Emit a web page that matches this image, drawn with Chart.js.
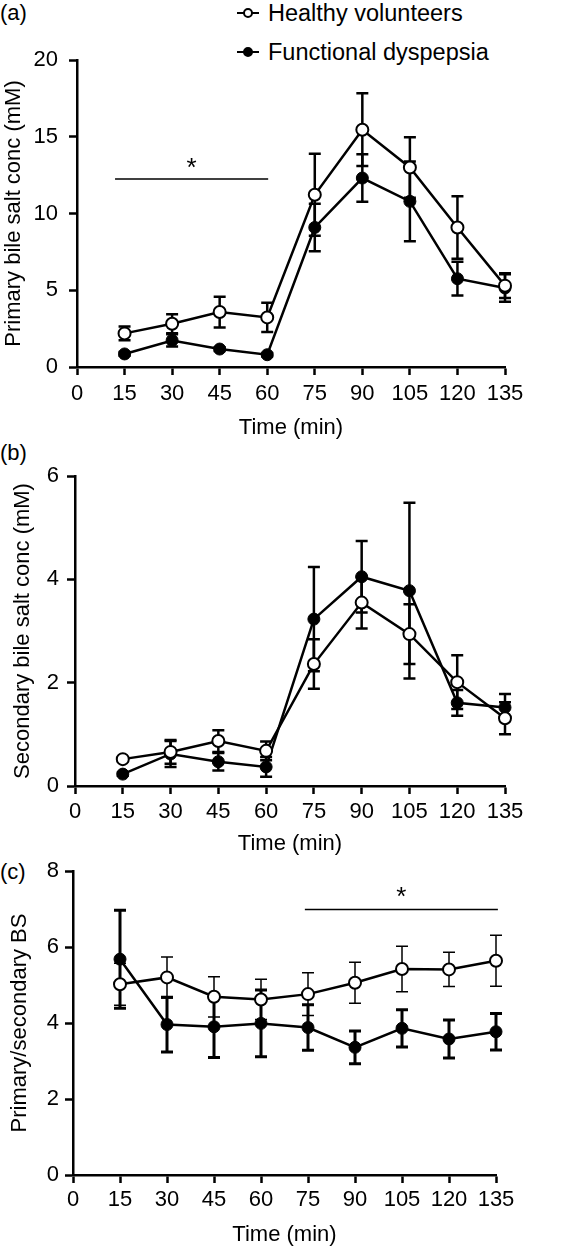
<!DOCTYPE html>
<html>
<head>
<meta charset="utf-8">
<script src="https://cdn.jsdelivr.net/npm/chart.js@4.4.1/dist/chart.umd.min.js"></script>
<style>
  html, body { margin: 0; padding: 0; background: #fff; overflow: hidden; }
  body { width: 564px; height: 1247px; position: relative; font-family: "Liberation Sans", Arial, Helvetica, sans-serif; color: #000; }
  canvas { position: absolute; left: 0; }
  .tag { position: absolute; left: 0px; font-size: 22px; line-height: 22px; }
  .legend-row { position: absolute; left: 237px; height: 26px; line-height: 26px; font-size: 23.5px; white-space: nowrap; }
  .legend-row .line { position: absolute; left: 0; top: 12px; width: 22px; height: 2px; background: #000; }
  .legend-row .dot { position: absolute; left: 6px; top: 8px; width: 6px; height: 6px; border: 2px solid #000; border-radius: 50%; background: #fff; }
  .legend-row .dot.filled { background: #000; }
  .legend-row .label { position: absolute; left: 31px; top: 0; }
</style>
</head>
<body>
<div class="tag" style="top:2px">(a)</div>
<div class="tag" style="top:442px">(b)</div>
<div class="tag" style="top:861px">(c)</div>

<div class="legend-row" style="top:0px"><div class="line"></div><div class="dot"></div><span class="label">Healthy volunteers</span></div>
<div class="legend-row" style="top:39px"><div class="line"></div><div class="dot filled"></div><span class="label">Functional dyspepsia</span></div>

<canvas id="chartPrimary" width="564" height="445" style="top:0px"></canvas>
<canvas id="chartSecondary" width="564" height="420" style="top:445px"></canvas>
<canvas id="chartRatio" width="564" height="402" style="top:845px"></canvas>

<script>
// tiempos de muestreo (min)
const times = [15, 30, 45, 60, 75, 90, 105, 120, 135];
const timeTicks = [0, 15, 30, 45, 60, 75, 90, 105, 120, 135];

// (a) sales biliares primarias (mM), media y error
const primaryHealthy = [2.19, 2.82, 3.58, 3.23, 11.22, 15.46, 13.0, 9.09, 5.3];
const primaryHealthyErr = [0.45, 0.62, 1.0, 0.95, 2.67, 2.37, 1.97, 2.03, 0.8];
const primaryDyspepsia = [0.85, 1.73, 1.17, 0.8, 9.09, 12.31, 10.79, 5.75, 5.15];
const primaryDyspepsiaErr = [0.12, 0.4, 0.12, 0.12, 1.55, 1.55, 2.6, 1.1, 0.9];
const primaryTicks = [0, 5, 10, 15, 20];
const primarySigSpan = [12, 60.3];
const primarySigLevel = 12.25;

// (b) sales biliares secundarias (mM)
const secondaryHealthy = [0.52, 0.66, 0.87, 0.68, 2.36, 3.55, 2.94, 2.01, 1.31];
const secondaryHealthyErr = [0.04, 0.23, 0.21, 0.18, 0.48, 0.5, 0.58, 0.52, 0.31];
const secondaryDyspepsia = [0.23, 0.62, 0.47, 0.37, 3.23, 4.05, 3.78, 1.61, 1.52];
const secondaryDyspepsiaErr = [0.03, 0.25, 0.17, 0.19, 1.01, 0.69, 1.7, 0.25, 0.26];
const secondaryTicks = [0, 2, 4, 6];

// (c) cociente primarias/secundarias
const ratioHealthy = [5.02, 5.2, 4.69, 4.62, 4.76, 5.06, 5.42, 5.41, 5.64];
const ratioHealthyErr = [0.55, 0.54, 0.53, 0.53, 0.56, 0.54, 0.6, 0.45, 0.67];
const ratioDyspepsia = [5.68, 3.96, 3.9, 3.99, 3.88, 3.36, 3.86, 3.58, 3.77];
const ratioDyspepsiaErr = [1.29, 0.72, 0.81, 0.88, 0.6, 0.43, 0.49, 0.5, 0.48];
const ratioTicks = [0, 2, 4, 6, 8];
const ratioSigSpan = [74, 135.6];
const ratioSigLevel = 6.99;

const fontFamily = '"Liberation Sans", Arial, Helvetica, sans-serif';
Chart.defaults.font.family = fontFamily;
Chart.defaults.color = '#000';

// barras de error, debajo de los marcadores
const errorBars = {
    id: 'errorBars',
    beforeDatasetsDraw(chart) {
        const ctx = chart.ctx;
        const yScale = chart.scales.y;
        chart.data.datasets.forEach((ds, i) => {
            if (!ds.errors) return;
            const meta = chart.getDatasetMeta(i);
            ctx.save();
            ctx.strokeStyle = '#000';
            ctx.lineWidth = ds.errorWidth;
            meta.data.forEach((pt, j) => {
                const v = ds.data[j].y;
                const e = ds.errors[j];
                const top = yScale.getPixelForValue(v + e);
                const bottom = yScale.getPixelForValue(v - e);
                const w = ds.capHalf;
                ctx.beginPath();
                ctx.moveTo(pt.x, top);
                ctx.lineTo(pt.x, bottom);
                ctx.moveTo(pt.x - w, top);
                ctx.lineTo(pt.x + w, top);
                ctx.moveTo(pt.x - w, bottom);
                ctx.lineTo(pt.x + w, bottom);
                ctx.stroke();
            });
            ctx.restore();
        });
    }
};

// linea de significancia con asterisco
const sigBar = {
    id: 'sigBar',
    afterDatasetsDraw(chart, args, opts) {
        if (!opts || !opts.span) return;
        const ctx = chart.ctx;
        const x0 = chart.scales.x.getPixelForValue(opts.span[0]);
        const x1 = chart.scales.x.getPixelForValue(opts.span[1]);
        const y = chart.scales.y.getPixelForValue(opts.level);
        ctx.save();
        ctx.strokeStyle = '#000';
        ctx.lineWidth = 1.5;
        ctx.beginPath();
        ctx.moveTo(x0, y);
        ctx.lineTo(x1, y);
        ctx.stroke();
        ctx.fillStyle = '#000';
        ctx.font = '26px ' + fontFamily;
        ctx.textAlign = 'center';
        ctx.textBaseline = 'middle';
        ctx.fillText('*', (x0 + x1) / 2, y - opts.lift);
        ctx.restore();
    }
};

function series(values) {
    return times.map((t, i) => ({ x: t, y: values[i] }));
}

function makeChart(id, p) {
    const healthyStyle = {
        label: 'Healthy volunteers',
        borderColor: '#000',
        borderWidth: 2.5,
        pointRadius: 6,
        pointBorderWidth: 2,
        pointBackgroundColor: '#fff',
        pointBorderColor: '#000',
        tension: 0,
        clip: false
    };
    const fdStyle = {
        label: 'Functional dyspepsia',
        borderColor: '#000',
        borderWidth: 2.5,
        pointRadius: 6,
        pointBorderWidth: 1,
        pointBackgroundColor: '#000',
        pointBorderColor: '#000',
        tension: 0,
        clip: false
    };
    return new Chart(document.getElementById(id), {
        type: 'line',
        data: {
            datasets: [
                Object.assign({}, healthyStyle, {
                    data: series(p.healthy), errors: p.healthyErr,
                    errorWidth: p.healthyErrWidth, capHalf: 6
                }),
                Object.assign({}, fdStyle, {
                    data: series(p.fd), errors: p.fdErr,
                    errorWidth: p.fdErrWidth, capHalf: 6
                })
            ]
        },
        options: {
            responsive: false,
            animation: false,
            layout: { padding: { top: p.padTop, right: p.padRight, left: 0, bottom: 0 } },
            plugins: {
                legend: { display: false },
                tooltip: { enabled: false },
                sigBar: p.sig || {}
            },
            scales: {
                x: {
                    type: 'linear',
                    min: 0,
                    max: 135,
                    afterBuildTicks: s => { s.ticks = timeTicks.map(v => ({ value: v })); },
                    afterFit: s => { s.height = p.xHeight; },
                    grid: { drawOnChartArea: false, drawTicks: true, tickLength: 8, tickWidth: 2.5, tickColor: '#000' },
                    border: { display: true, color: '#000', width: 2.5 },
                    ticks: { font: { size: 22 }, padding: p.xTickPad, color: '#000', maxRotation: 0, autoSkip: false },
                    title: { display: true, text: 'Time (min)', color: '#000', font: { size: 22, lineHeight: 1 }, padding: { top: 0, bottom: p.xTitlePad } }
                },
                y: {
                    type: 'linear',
                    min: p.yTicks[0],
                    max: p.yTicks[p.yTicks.length - 1],
                    afterBuildTicks: s => { s.ticks = p.yTicks.map(v => ({ value: v })); },
                    afterFit: s => { s.width = p.yWidth; },
                    grid: { drawOnChartArea: false, drawTicks: true, tickLength: 8, tickWidth: 2.5, tickColor: '#000' },
                    border: { display: true, color: '#000', width: 2.5 },
                    ticks: { font: { size: 22 }, padding: p.yTickPad, color: '#000' },
                    title: { display: true, text: p.yTitle, color: '#000', font: { size: 22, lineHeight: 1 }, padding: { top: p.yTitlePad, bottom: 0 } }
                }
            }
        },
        plugins: [errorBars, sigBar]
    });
}

makeChart('chartPrimary', {
    healthy: primaryHealthy, healthyErr: primaryHealthyErr,
    fd: primaryDyspepsia, fdErr: primaryDyspepsiaErr,
    healthyErrWidth: 2.5, fdErrWidth: 2.5,
    yTicks: primaryTicks, yTitle: 'Primary bile salt conc (mM)',
    padTop: 60, padRight: 59, yWidth: 77, xHeight: 78,
    xTickPad: 6, xTitlePad: 6, yTickPad: 11, yTitlePad: 3,
    sig: { span: primarySigSpan, level: primarySigLevel, lift: 10 }
});

makeChart('chartSecondary', {
    healthy: secondaryHealthy, healthyErr: secondaryHealthyErr,
    fd: secondaryDyspepsia, fdErr: secondaryDyspepsiaErr,
    healthyErrWidth: 2.5, fdErrWidth: 2.5,
    yTicks: secondaryTicks, yTitle: 'Secondary bile salt conc (mM)',
    padTop: 31, padRight: 59, yWidth: 75, xHeight: 79,
    xTickPad: 5, xTitlePad: 10, yTickPad: 8, yTitlePad: 12
});

makeChart('chartRatio', {
    healthy: ratioHealthy, healthyErr: ratioHealthyErr,
    fd: ratioDyspepsia, fdErr: ratioDyspepsiaErr,
    healthyErrWidth: 1.5, fdErrWidth: 3,
    yTicks: ratioTicks, yTitle: 'Primary/secondary BS',
    padTop: 26, padRight: 68, yWidth: 73, xHeight: 72,
    xTickPad: 4, xTitlePad: 1, yTickPad: 6, yTitlePad: 9,
    sig: { span: ratioSigSpan, level: ratioSigLevel, lift: 12 }
});
</script>
</body>
</html>
